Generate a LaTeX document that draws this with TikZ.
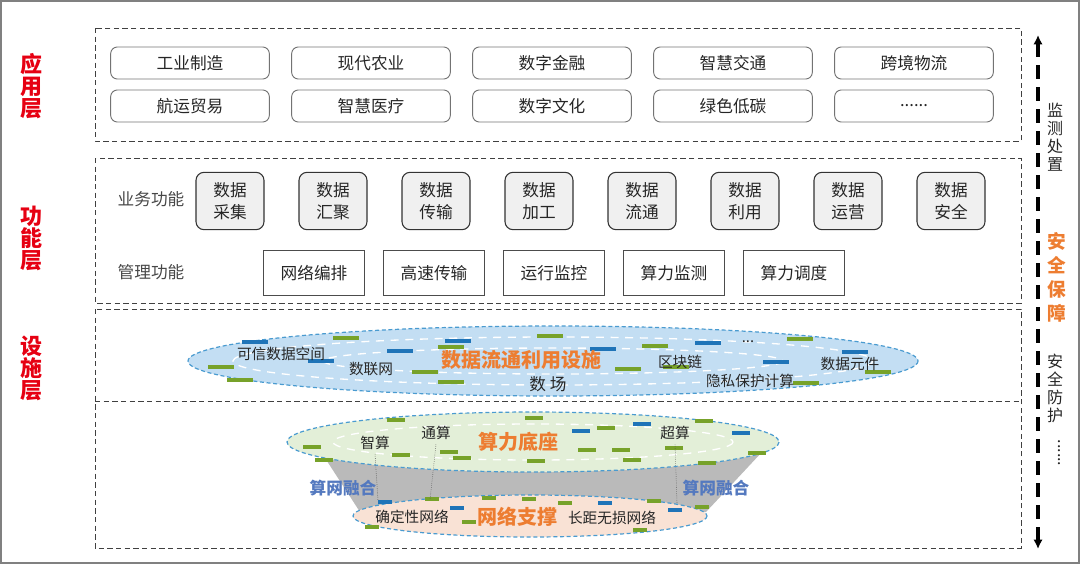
\documentclass[tikz,border=0pt]{standalone}
\usepackage{fontspec}
\setmainfont{Noto Sans CJK SC}
\usetikzlibrary{arrows.meta}
\definecolor{lred}{HTML}{E60012}
\definecolor{lorange}{HTML}{ED7D31}
\definecolor{lblue}{HTML}{5479BF}
\definecolor{bargreen}{HTML}{77A22A}
\definecolor{barblue}{HTML}{1F74B8}
\definecolor{edgeblue}{HTML}{4A9BD0}
\definecolor{fillblue}{HTML}{C3DEF3}
\definecolor{fillgreen}{HTML}{E3EFD8}
\definecolor{fillpeach}{HTML}{F9E2D5}
\definecolor{txt}{HTML}{262626}

\begin{document}
\begin{tikzpicture}[x=0.75pt,y=-0.75pt,
   layerbox/.style={draw=black!75,line width=0.7pt,dash pattern=on 4pt off 2.5pt},
   layername/.style={text=lred,font=\fontsize{16.5}{16.5}\selectfont\bfseries,align=center},
   appbox/.style={draw=black!55,line width=0.7pt,rounded corners=5pt,minimum width=119pt,minimum height=24pt,text=txt,font=\fontsize{12.5}{15}\selectfont},
   bizbox/.style={draw=black!80,line width=0.8pt,fill=black!6,rounded corners=6pt,minimum width=51pt,minimum height=43pt,align=center,text=txt,font=\fontsize{12.5}{16.5}\selectfont},
   mgmtbox/.style={draw=black!70,line width=0.8pt,minimum width=76pt,minimum height=34pt,text=txt,font=\fontsize{12.5}{15}\selectfont},
   rowname/.style={text=txt!85,font=\fontsize{12.5}{15}\selectfont},
   ring/.style={draw=edgeblue,line width=0.9pt,dash pattern=on 3pt off 2pt},
   streak/.style={white,line width=1pt,dash pattern=on 6pt off 5pt},
   ellname/.style={text=txt,font=\fontsize{11}{13}\selectfont},
   corename/.style={text=lorange,font=\fontsize{15}{18}\selectfont\bfseries},
   fusename/.style={text=lblue,font=\fontsize{12.5}{15}\selectfont\bfseries},
   gbar/.style={bargreen,line width=3pt},
   bbar/.style={barblue,line width=3pt},
   sidename/.style={text=txt,font=\fontsize{12}{13.5}\selectfont,align=center}]
   \useasboundingbox (0,0) rectangle (1080,564);
   \draw[black!50,line width=1.5pt] (1,1) rectangle (1079,563);

   \draw[layerbox] (95,28) rectangle (1021,141);
   \draw[layerbox] (95,158) rectangle (1021,303);
   \draw[layerbox] (95,309) rectangle (1021,548);
   \draw[layerbox] (95,401) -- (1021,401);

   \node[layername] (yyc) at (32,86) {应\\用\\层};
   \node[layername] (gnc) at (32,238) {功\\能\\层};
   \node[layername] (ssc) at (32,368) {设\\施\\层};

   \foreach \t [count=\i from 0] in {工业制造,现代农业,数字金融,智慧交通,跨境物流}
     \node[appbox] (appa\i) at (190+181*\i,63) {\t};
   \foreach \t [count=\i from 0] in {航运贸易,智慧医疗,数字文化,绿色低碳}
     \node[appbox] (appb\i) at (190+181*\i,106) {\t};
   \node[appbox] (appb4) at (914,106) {......};

   \node[rowname] (yw) at (151,199) {业务功能};
   \node[rowname] (gl) at (151,272) {管理功能};
   \foreach \t [count=\i from 0] in {采集,汇聚,传输,加工,流通,利用,运营,安全}
     \node[bizbox] (biz\i) at (230+103*\i,201) {数据\\\t};
   \foreach \t [count=\i from 0] in {网络编排,高速传输,运行监控,算力监测,算力调度}
     \node[mgmtbox] (mg\i) at (314+120*\i,273) {\t};

   \draw[ring,fill=fillblue] (553,361) ellipse (365 and 35);
   \draw[streak] (553,361) ellipse (320 and 24) (553,361) ellipse (230 and 13);
   \foreach \x/\y in {333/338,208/367,227/380,412/372,438/347,438/382,537/336,642/346,615/369,663/367,787/339,865/372,793/383}
     \draw[gbar] (\x,\y) -- ++(26,0);
   \foreach \x/\y in {242/342,308/361,387/351,445/341,590/349,695/343,842/352,763/362}
     \draw[bbar] (\x,\y) -- ++(26,0);
   \node[ellname] (kx) at (281,354) {可信数据空间};
   \node[ellname] (slw) at (371,369) {数联网};
   \node[corename] (sjlt) at (521,360) {数据流通利用设施};
   \node[text=txt,font=\fontsize{12.5}{15}\selectfont] (sc) at (548,384) {数\ 场};
   \node[ellname] (qkl) at (680,362) {区块链};
   \node[ellname] (gd) at (748,342) {...};
   \node[ellname] (ys) at (750,381) {隐私保护计算};
   \node[ellname] (yj) at (850,364) {数据元件};

   \fill[black!27] (325,458) -- (762,452) -- (706,512) -- (360,512) -- cycle;
   \draw[ring,fill=fillgreen] (533,442) ellipse (246 and 30);
   \draw[streak] (533,442) ellipse (200 and 18);
   \foreach \x/\y in {387/420,525/418,695/421,597/428,303/447,315/460,392/455,440/452,453/458,527/461,578/450,612/450,623/460,665/448,698/463,748/453}
     \draw[gbar] (\x,\y) -- ++(18,0);
   \foreach \x/\y in {633/424,572/431,732/433}
     \draw[bbar] (\x,\y) -- ++(18,0);
   \draw[ring,fill=fillpeach] (530,516) ellipse (177 and 21);
   \foreach \x/\y in {425/499,482/498,522/499,558/503,647/501,695/507,462/522,365/527,633/530}
     \draw[gbar] (\x,\y) -- ++(14,0);
   \foreach \x/\y in {378/502,450/508,598/503,668/510}
     \draw[bbar] (\x,\y) -- ++(14,0);

   \node[ellname] (zs) at (375,443) {智算};
   \node[ellname] (ts) at (436,433) {通算};
   \node[corename] (sldz) at (518,442) {算力底座};
   \node[ellname] (cs) at (675,433) {超算};
   \node[fusename] (rhl) at (343,488) {算网融合};
   \node[fusename] (rhr) at (716,488) {算网融合};
   \node[ellname] (qdx) at (412,517) {确定性网络};
   \node[corename] (wlzc) at (517,517) {网络支撑};
   \node[ellname] (cj) at (612,518) {长距无损网络};
   \coordinate (zsE) at (378,500);
   \coordinate (tsE) at (430,500);
   \coordinate (csE) at (677,503);
   \draw[densely dotted,black!70] (zs.south) -- (zsE);
   \draw[densely dotted,black!70] (ts.south) -- (tsE);
   \draw[densely dotted,black!70] (cs.south) -- (csE);

   \coordinate (aqT) at (1038,35);
   \coordinate (aqB) at (1038,549);
   \draw[line width=2.5pt,dash pattern=on 10.5pt off 6pt,{Latex[length=7pt,width=7pt]}-{Latex[length=7pt,width=7pt]}] (aqB) -- (aqT);
   \node[sidename] (jc) at (1055,137) {监\\测\\处\\置};
   \node[sidename,text=lorange,font=\fontsize{14}{18}\selectfont\bfseries] (aqbz) at (1057,277) {安\\全\\保\\障};
   \node[sidename] (aqfh) at (1055,388) {安\\全\\防\\护};
   \node[sidename,rotate=-90] (sd) at (1059,453) {......};
\end{tikzpicture}
\end{document}
